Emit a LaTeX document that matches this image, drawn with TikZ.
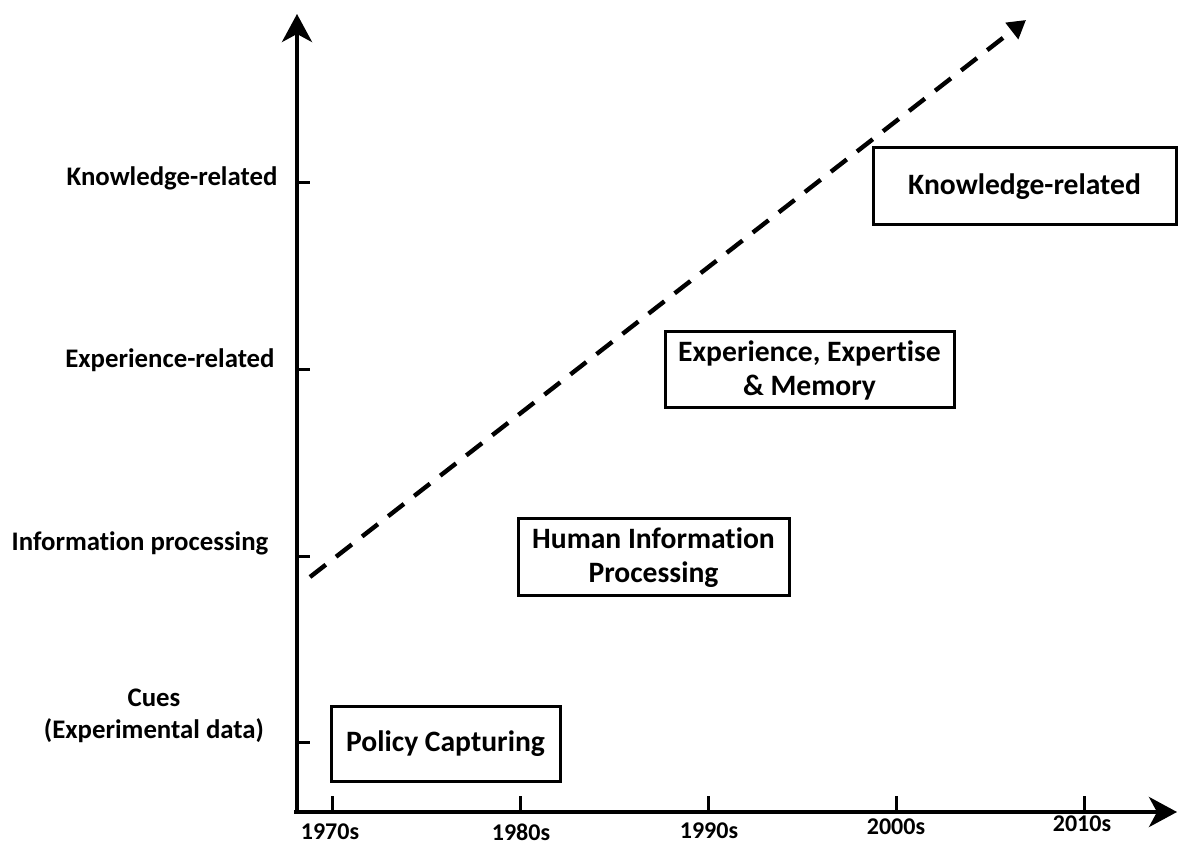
\documentclass[tikz,border=0pt]{standalone}
\usepackage{fontspec}
\setmainfont{Carlito}[RawFeature=-liga]
\usetikzlibrary{arrows.meta,calc}
\begin{document}
\begin{tikzpicture}[x=0.5pt,y=-0.5pt,
  axis/.style={line width=2pt,-{Stealth[length=14pt,width=15pt,inset=4pt]}},
  tick/.style={line width=1.5pt},
  trend/.style={line width=2.2pt,dash pattern=on 10pt off 6.5pt,-{Triangle[length=9pt,width=10pt]}},
  era/.style={draw,line width=1.5pt,inner sep=0pt,align=center,
    font=\fontsize{14.8}{17}\selectfont\bfseries},
  ylab/.style={align=center,font=\fontsize{13.4}{16}\selectfont\bfseries},
  xlab/.style={font=\fontsize{12}{14}\selectfont\bfseries}]
\useasboundingbox (0,0) rectangle (1179,844);

% axes
\coordinate (O) at (297,812);
\coordinate (ytop) at (297,14);
\coordinate (xend) at (1177,812);
\draw[axis] (O) -- (ytop);
\draw[axis] ($(O)+(-3,0)$) -- (xend);

% vertical ticks and category labels
\foreach \name/\yy in {cues/742,info/557,expe/370,know/183}{
  \coordinate (t-\name) at (297,\yy);
  \draw[tick] (t-\name) -- ++(13,0);
}
\node[ylab] (l-know) at (172,178) {Knowledge-related};
\node[ylab] (l-expe) at (170,360) {Experience-related};
\node[ylab] (l-info) at (140,543) {Information processing};
\node[ylab] (l-cues) at (154,716) {Cues\\(Experimental data)};

% horizontal ticks and decade labels
\foreach \name/\xx in {a/332,b/520,c/708,d/896,e/1084}{
  \coordinate (d-\name) at (\xx,812);
  \draw[tick] (d-\name) -- ++(0,-16);
}
\node[xlab] (x-a) at (330,832) {1970s};
\node[xlab] (x-b) at (521,832) {1980s};
\node[xlab] (x-c) at (709,831) {1990s};
\node[xlab] (x-d) at (896,827) {2000s};
\node[xlab] (x-e) at (1082,824) {2010s};

% era boxes
\node[era,minimum width=114.5pt,minimum height=37.5pt] (policy) at (445.5,743.5) {Policy Capturing};
\node[era,minimum width=135.5pt,minimum height=38.5pt] (hip) at (653.5,557.5) {Human Information\\Processing};
\node[era,minimum width=144.5pt,minimum height=38pt] (exp) at (809.5,370) {Experience, Expertise\\\& Memory};
\node[era,minimum width=151.5pt,minimum height=38.5pt] (know) at (1024.5,186.5) {Knowledge-related};

% trend line
\coordinate (tr0) at (310,577);
\coordinate (tr1) at (1026,20);
\draw[trend] (tr0) -- (tr1);
\end{tikzpicture}
\end{document}
